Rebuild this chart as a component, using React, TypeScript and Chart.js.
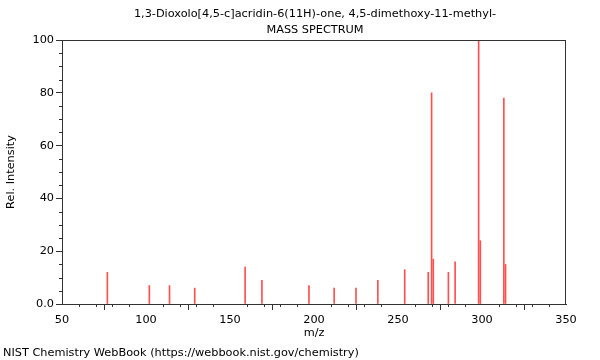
import React, { useEffect, useRef } from "react";
import { Chart, registerables } from "chart.js";

Chart.register(...registerables);

const titleLines = [
  "1,3-Dioxolo[4,5-c]acridin-6(11H)-one, 4,5-dimethoxy-11-methyl-",
  "MASS SPECTRUM",
];
const footerText = "NIST Chemistry WebBook (https://webbook.nist.gov/chemistry)";
const xTitle = "m/z";
const yTitle = "Rel. Intensity";

const mzValues = [77, 102, 114, 129, 159, 169, 197, 212, 225, 238, 254, 268, 270, 271, 280, 284, 298, 299, 313, 314];
const intensities = [12, 7, 7, 6, 14, 9, 7, 6, 6, 9, 13, 12, 80, 17, 12, 16, 100, 24, 78, 15];

const xMin = 50;
const xMax = 350;
const xMajorStep = 50;
const xMinorStep = 10;
const yMin = 0;
const yMax = 100;
const yMajorStep = 20;
const yMinorStep = 5;

const FONT = "DejaVu Sans";
const TEXT_SIZE = 11.3;

const decorPlugin = {
  id: "decor",
  afterDraw(chart: any) {
    const { ctx, chartArea } = chart;
    const xs = chart.scales.x;
    const ys = chart.scales.y;
    ctx.save();
    ctx.strokeStyle = "#333";
    ctx.lineWidth = 1;
    ctx.strokeRect(
      Math.round(chartArea.left) + 0.5,
      Math.round(chartArea.top) + 0.5,
      Math.round(chartArea.right - chartArea.left) - 1,
      Math.round(chartArea.bottom - chartArea.top)
    );
    ctx.beginPath();
    for (let v = xMin; v <= xMax; v += xMinorStep) {
      if (v % xMajorStep === 0) continue;
      const px = Math.round(xs.getPixelForValue(v)) + 0.5;
      ctx.moveTo(px, chartArea.bottom);
      ctx.lineTo(px, chartArea.bottom + 3);
    }
    for (let v = yMin; v <= yMax; v += yMinorStep) {
      if (v % yMajorStep === 0) continue;
      const py = Math.round(ys.getPixelForValue(v)) + 0.5;
      ctx.moveTo(chartArea.left - 3, py);
      ctx.lineTo(chartArea.left, py);
    }
    ctx.stroke();

    ctx.fillStyle = "#000";
    ctx.font = `${TEXT_SIZE}px "${FONT}"`;
    ctx.textAlign = "center";
    ctx.textBaseline = "middle";
    const cx = (chartArea.left + chartArea.right) / 2;
    ctx.fillText(titleLines[0], cx + 1, 14);
    ctx.fillText(titleLines[1], cx + 1, 30);
    ctx.fillText(xTitle, cx, 333);
    ctx.textAlign = "left";
    ctx.fillText(footerText, 3, 353);
    ctx.save();
    ctx.translate(11, (chartArea.top + chartArea.bottom) / 2);
    ctx.rotate(-Math.PI / 2);
    ctx.textAlign = "center";
    ctx.fillText(yTitle, 0, 0);
    ctx.restore();
    ctx.restore();
  },
};

export default function App() {
  const ref = useRef<HTMLCanvasElement | null>(null);
  useEffect(() => {
    if (!ref.current) return;
    const chart = new Chart(ref.current, {
      type: "bar",
      data: {
        datasets: [
          {
            data: mzValues.map((m, i) => ({ x: m, y: intensities[i] })),
            backgroundColor: "rgb(255,80,80)",
            borderWidth: 0,
            barThickness: 1,
          } as any,
        ],
      },
      options: {
        animation: false,
        responsive: false,
        devicePixelRatio: 1,
        layout: { padding: { top: 40, right: 34, left: 0, bottom: 0 } },
        plugins: { legend: { display: false }, tooltip: { enabled: false }, title: { display: false } },
        scales: {
          x: {
            type: "linear",
            min: xMin,
            max: xMax,
            offset: false,
            afterFit: (s: any) => {
              s.height = 56;
            },
            ticks: {
              stepSize: xMajorStep,
              font: { family: FONT, size: TEXT_SIZE },
              color: "#000",
              padding: 3,
              maxRotation: 0,
            },
            grid: { drawOnChartArea: false, drawTicks: true, tickLength: 6, color: "#333" },
            border: { display: true, color: "#333" },
          },
          y: {
            type: "linear",
            min: yMin,
            max: yMax,
            afterFit: (s: any) => {
              s.width = 62;
            },
            ticks: {
              stepSize: yMajorStep,
              font: { family: FONT, size: TEXT_SIZE },
              color: "#000",
              padding: 2,
              callback: (v: any) => (v === 0 ? "0.0" : String(v)),
            },
            grid: { drawOnChartArea: false, drawTicks: true, tickLength: 6, color: "#333" },
            border: { display: true, color: "#333" },
          },
        },
      },
      plugins: [decorPlugin],
    });
    return () => chart.destroy();
  }, []);
  return (
    <div style={{ position: "fixed", left: 0, top: 0, width: 600, height: 360, background: "#fff" }}>
      <canvas ref={ref} width={600} height={360} style={{ display: "block" }} />
    </div>
  );
}
